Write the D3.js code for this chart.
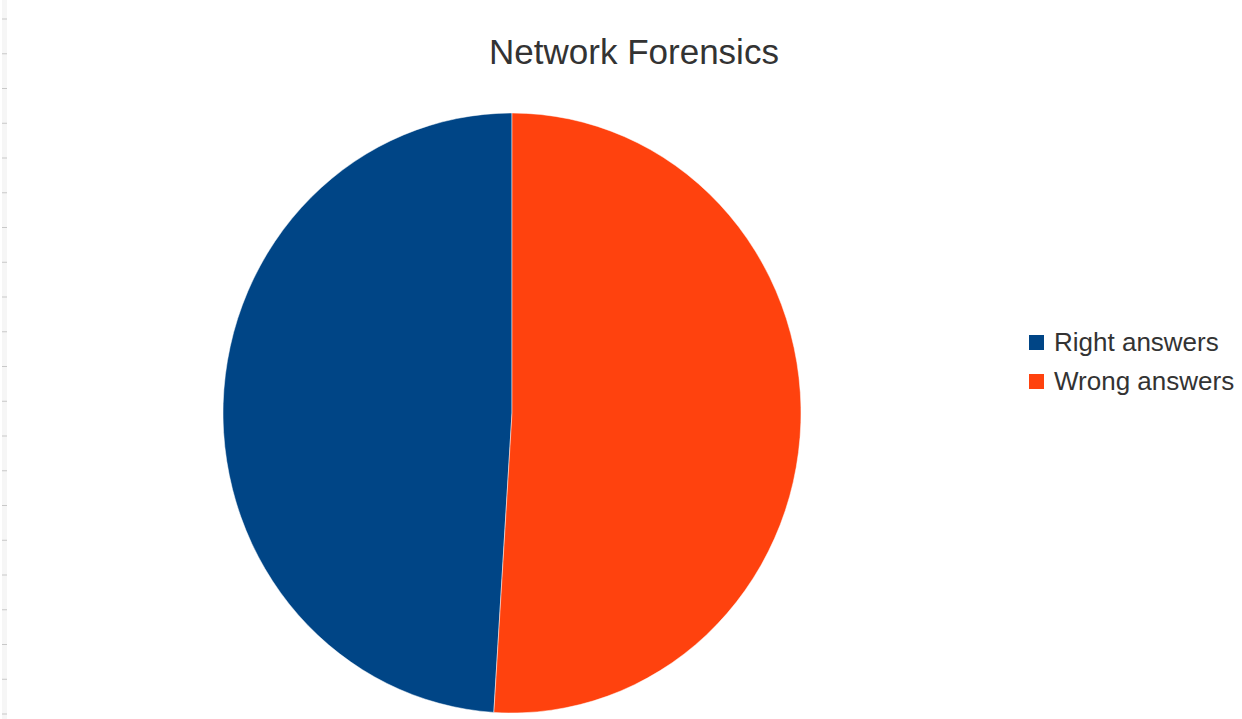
<!DOCTYPE html>
<html>
<head>
<meta charset="utf-8">
<script src="https://cdn.jsdelivr.net/npm/d3@7"></script>
<style>
  html, body { margin: 0; padding: 0; background: #ffffff; }
  svg { display: block; }
</style>
</head>
<body>
<svg id="chart" width="1242" height="719"></svg>
<script>
// Chart data
const chartTitle = "Network Forensics";
const categories = ["Right answers", "Wrong answers"];
const values = [49, 51];
const colors = ["#004586", "#ff420e"];

const width = 1242, height = 719;
const svg = d3.select("#chart");

// Faint ruler strip along the left edge
const ruler = svg.append("g");
ruler.append("rect")
  .attr("x", 2).attr("y", 0).attr("width", 5).attr("height", height)
  .attr("fill", "#f6f6f6");
const rulerTicks = d3.range(19, height, 34.75);
ruler.selectAll("line").data(rulerTicks).enter().append("line")
  .attr("x1", 2).attr("x2", 7)
  .attr("y1", d => d).attr("y2", d => d)
  .attr("stroke", "#c8c8c8").attr("stroke-width", 1);

// Title
svg.append("text")
  .attr("x", 634).attr("y", 64)
  .attr("text-anchor", "middle")
  .attr("font-family", "Liberation Sans, Arial, sans-serif")
  .attr("font-size", 35)
  .attr("fill", "#333333")
  .text(chartTitle);

// Pie: first slice starts at 12 o'clock and runs counter-clockwise
const cx = 512, cy = 413, rx = 289, ry = 300;
const pie = d3.pie().sort(null)
  .startAngle(0).endAngle(-2 * Math.PI);
const arc = d3.arc().innerRadius(0).outerRadius(rx);

const pieG = svg.append("g")
  .attr("transform", `translate(${cx},${cy}) scale(1,${ry / rx})`);
pieG.selectAll("path").data(pie(values)).enter().append("path")
  .attr("d", arc)
  .attr("fill", (d, i) => colors[i])
  .attr("stroke", "#ffffff")
  .attr("stroke-width", 0.8)
  .attr("stroke-opacity", 0.6);

// Legend
const legend = svg.append("g").attr("transform", "translate(1029,335)");
const item = legend.selectAll("g").data(categories).enter().append("g")
  .attr("transform", (d, i) => `translate(0,${i * 39})`);
item.append("rect")
  .attr("x", 0).attr("y", 0).attr("width", 15).attr("height", 15)
  .attr("fill", (d, i) => colors[i]);
item.append("text")
  .attr("x", 25).attr("y", 16)
  .attr("font-family", "Liberation Sans, Arial, sans-serif")
  .attr("font-size", 26)
  .attr("fill", "#333333")
  .text(d => d);
</script>
</body>
</html>
